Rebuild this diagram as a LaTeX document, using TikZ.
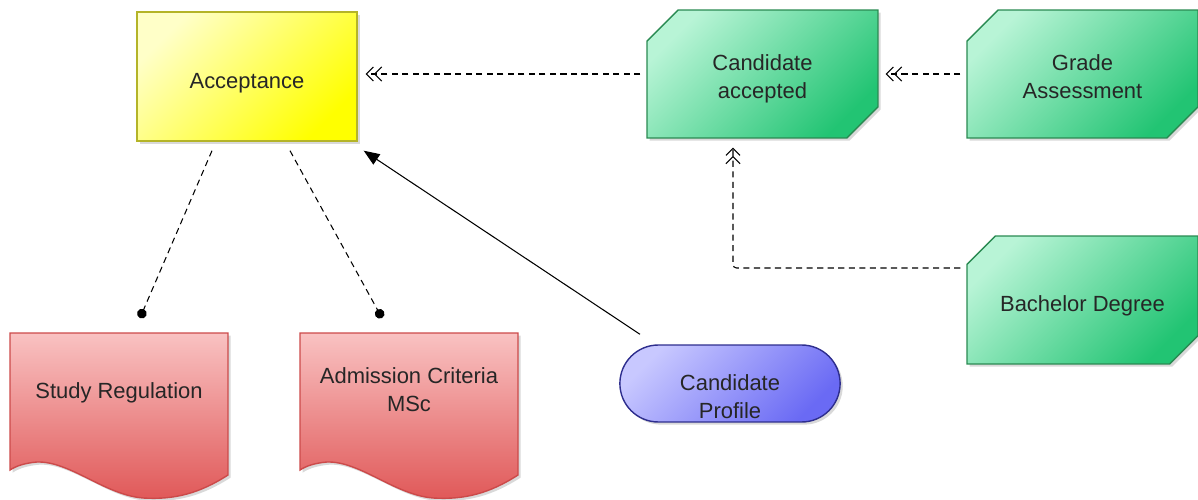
\documentclass[tikz,border=0pt]{standalone}
\usepackage{fontspec}
\setmainfont{Liberation Sans}
\usetikzlibrary{shapes.misc}
\usetikzlibrary{calc}
\usetikzlibrary{arrows.meta}
\usetikzlibrary{shadows}

\definecolor{ruleTop}{HTML}{FFFFC8}
\definecolor{ruleBot}{HTML}{FFFF00}
\definecolor{ruleLine}{HTML}{B4B428}
\definecolor{eventTop}{HTML}{B8F4D6}
\definecolor{eventBot}{HTML}{22C473}
\definecolor{eventLine}{HTML}{2A8A52}
\definecolor{docTop}{HTML}{F9C2C2}
\definecolor{docMid}{HTML}{E25C5C}
\definecolor{docBot}{HTML}{E05858}
\definecolor{docLine}{HTML}{CC4A4A}
\definecolor{infoTop}{HTML}{C8C8FF}
\definecolor{infoBot}{HTML}{6A6AF4}
\definecolor{infoLine}{HTML}{2E2E8E}

\begin{document}
\begin{tikzpicture}[x=0.02cm, y=-0.02cm,
    every node/.style={font=\fontsize{12.5}{16}\selectfont, text=black!85, align=center},
    oneline/.style={text height=16pt, text depth=2.6pt},
    twoline/.style={text height=31pt, text depth=2.6pt},
    softshadow/.style={drop shadow={shadow xshift=1.5pt, shadow yshift=-1.5pt, opacity=0.3}},
    rulebox/.style={rectangle, draw=ruleLine, line width=0.8pt, top color=ruleTop, bottom color=ruleBot,
        shading angle=45, minimum width=4.4cm, minimum height=2.58cm, softshadow},
    eventbox/.style={chamfered rectangle, chamfered rectangle corners={north west,south east},
        chamfered rectangle xsep=0.5cm, draw=eventLine, line width=0.8pt, top color=eventTop,
        bottom color=eventBot, shading angle=45, minimum width=4.62cm, minimum height=2.56cm,
        softshadow},
    infobox/.style={rounded rectangle, draw=infoLine, line width=0.8pt, top color=infoTop,
        bottom color=infoBot, shading angle=45, minimum width=4.64cm, minimum height=1.54cm,
        softshadow, inner ysep=1pt, text height=39.8pt, text depth=0pt},
    docbody/.style={draw=docLine, line width=0.8pt, top color=docTop, middle color=docMid,
        bottom color=docBot, softshadow},
    flow/.style={line width=0.6pt, dash pattern=on 3.5pt off 2.5pt,
        -{Straight Barb[length=4pt,width=8pt] Straight Barb[length=4pt,width=8pt]}},
    link/.style={line width=0.6pt, dash pattern=on 3.5pt off 2.5pt, -{Circle[length=5.5pt]}},
  ]
    \useasboundingbox (0,0) rectangle (1198,500);

    % acceptance rule
    \node [rulebox, oneline] (accept) at (247,76.5) {Acceptance};
    % events
    \node [eventbox, twoline] (candacc) at (762.5,74) {Candidate\\accepted};
    \node [eventbox, twoline] (grade) at (1082.5,74) {Grade\\Assessment};
    \node [eventbox, oneline] (bachelor) at (1082.5,300) {Bachelor Degree};
    % candidate profile
    \node [infobox] (profile) at (730,383.5) {Candidate\\Profile};

    % documents
    \draw [docbody, shift={(10,333)}] (0,0) -- (218,0) -- (218,142)
        .. controls (190,160) and (165,167) .. (133,165)
        .. controls (95,162) and (60,128) .. (27,129)
        .. controls (15,130) and (6,133) .. (0,137) -- cycle;
    \node (studyreg) at (119,393) {Study Regulation};
    \draw [docbody, shift={(300,333)}] (0,0) -- (218,0) -- (218,142)
        .. controls (190,160) and (165,167) .. (133,165)
        .. controls (95,162) and (60,128) .. (27,129)
        .. controls (15,130) and (6,133) .. (0,137) -- cycle;
    \node (admit) at (409,390) {Admission Criteria\\MSc};

    % event flow
    \draw [flow] ($(candacc.west)+(-6,0)$) -- ($(accept.east |- candacc.west)+(8,0)$);
    \draw [flow] ($(grade.west)+(-6,0)$) -- ($(candacc.east)+(7,0)$);
    \draw [flow, rounded corners=2pt] ($(bachelor.west)+(-6,-32)$) -| ($(candacc.south)+(-29.5,9)$);

    % documents used by the rule
    \draw [link] ($(accept.south)+(-35,9)$) -- ($(studyreg)+(21,-75)$);
    \draw [link] ($(accept.south)+(43,9)$) -- ($(admit)+(-27,-72)$);

    % profile input
    \draw [line width=0.6pt, -{Triangle[length=9pt,width=7pt]}] ($(profile.north)+(-90,-10)$) -- ($(accept.south east)+(6,9)$);
\end{tikzpicture}
\end{document}
